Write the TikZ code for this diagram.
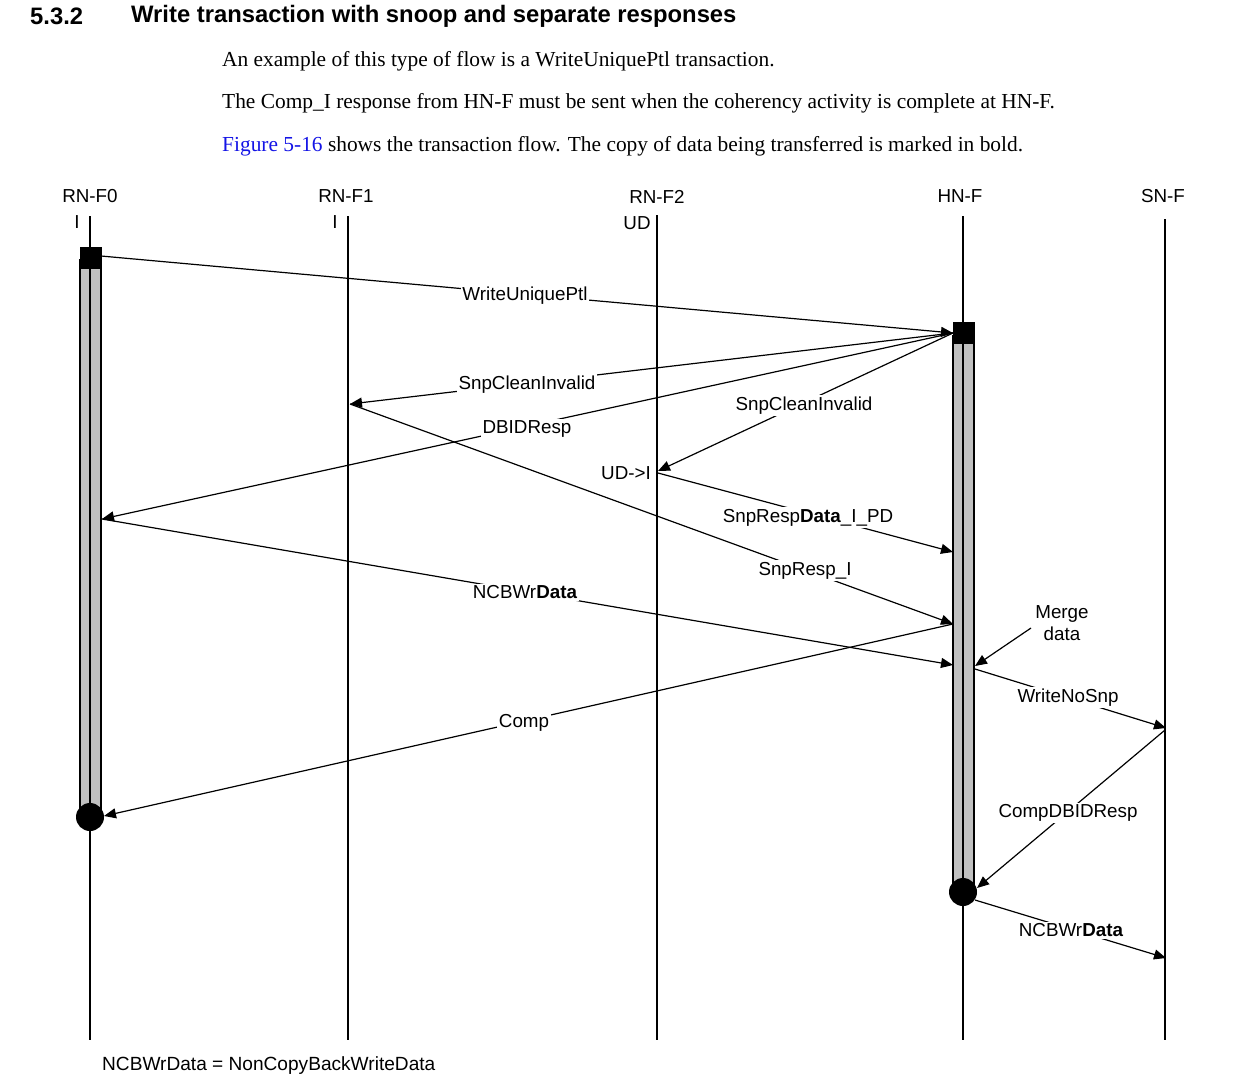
\documentclass[tikz,border=0pt]{standalone}
\usepackage{fontspec}
\setmainfont{Liberation Sans}
\newfontfamily\bodyserif{Liberation Serif}
\usetikzlibrary{arrows.meta}
\definecolor{linkblue}{RGB}{20,20,230}
\definecolor{bargray}{RGB}{192,192,192}
\begin{document}
\begin{tikzpicture}[x=1pt,y=-1pt,
  life/.style={line width=2.8pt},
  msg/.style={line width=1.2pt,-{Triangle[length=12pt,width=10pt]}},
  lbl/.style={fill=white,inner sep=1.5pt,font=\fontsize{18.8}{21}\selectfont},
  hdr/.style={font=\fontsize{18.8}{21}\selectfont,inner sep=0pt},
  body/.style={font=\bodyserif\fontsize{21.4}{24}\selectfont,anchor=west,inner sep=0pt},
  ttl/.style={font=\bfseries\fontsize{23.8}{26}\selectfont,anchor=west,inner sep=0pt},
  actbar/.style={fill=bargray,draw=black,line width=1.5pt}]
\useasboundingbox (0,0) rectangle (1233,1082);

% title and body
\node[ttl] (secno) at (30,16) {5.3.2};
\node[ttl] (sectitle) at (131,16) {Write transaction with snoop and separate responses};
\node[body] (p1) at (222,61.5) {An example of this type of flow is a WriteUniquePtl transaction.};
\node[body] (p2) at (222,103.5) {The Comp\_I response from HN-F must be sent when the coherency activity is complete at HN-F.};
\node[body] (p3) at (222,146.5) {\textcolor{linkblue}{Figure 5-16} shows the transaction flow. The copy of data being transferred is marked in bold.};

% headers
\node[hdr] (h0) at (90,196.5) {RN-F0};
\node[hdr] (h1) at (346,196.5) {RN-F1};
\node[hdr] (h2) at (657,196.5) {RN-F2};
\node[hdr] (h3) at (960,196.5) {HN-F};
\node[hdr] (h4) at (1163,196.5) {SN-F};
\node[hdr] (s0) at (77,222.5) {I};
\node[hdr] (s1) at (335,222.5) {I};
\node[hdr] (s2) at (637,223) {UD};

% lifeline coordinates
\coordinate (t0) at (90,216);  \coordinate (b0) at (90,1040);
\coordinate (t1) at (348,216); \coordinate (b1) at (348,1040);
\coordinate (t2) at (657,215); \coordinate (b2) at (657,1040);
\coordinate (t3) at (963,216); \coordinate (b3) at (963,1040);
\coordinate (t4) at (1165,219);\coordinate (b4) at (1165,1040);

% activation bars
\draw[actbar] (80,260) rectangle (101,817);
\draw[actbar] (953,336) rectangle (974,892);

\draw[life] (t0) -- (b0);
\draw[life] (t1) -- (b1);
\draw[life] (t2) -- (b2);
\draw[life] (t3) -- (b3);
\draw[life] (t4) -- (b4);

\fill (79.5,246.5) rectangle (101.5,268.5);
\fill (952.5,321.5) rectangle (974.5,343.5);
\fill (90,817) circle (14);
\fill (963,892) circle (14);

% message end points
\coordinate (a0) at (101,256);
\coordinate (hq) at (953,333);
\coordinate (f1) at (350,404);
\coordinate (f0a) at (102,519);
\coordinate (f2) at (658,471);
\coordinate (f2s) at (658,473);
\coordinate (hr1) at (953,552);
\coordinate (hr2) at (953,624);
\coordinate (hr3) at (953,665);
\coordinate (f0b) at (104,816);
\coordinate (mg) at (1031,628);
\coordinate (hm) at (975,666);
\coordinate (hw) at (975,669);
\coordinate (sn1) at (1166,728);
\coordinate (sn1s) at (1165,730);
\coordinate (hc) at (977,888);
\coordinate (hd) at (975,900);
\coordinate (sn2) at (1166,958);

% messages
\draw[msg] (a0) -- (hq);
\draw[msg] (hq) -- (f1);
\draw[msg] (hq) -- (f0a);
\draw[msg] (hq) -- (f2);
\draw[msg] (f2s) -- (hr1);
\draw[msg] (f1) -- (hr2);
\draw[msg] (f0a) -- (hr3);
\draw[msg] (hr2) -- (f0b);
\draw[msg] (mg) -- (hm);
\draw[msg] (hw) -- (sn1);
\draw[msg] (sn1s) -- (hc);
\draw[msg] (hd) -- (sn2);

% labels
\node[lbl] (l1) at (525,295.5) {WriteUniquePtl};
\node[lbl] (l2) at (527,384.5) {SnpCleanInvalid};
\node[lbl] (l3) at (527,428.5) {DBIDResp};
\node[lbl] (l4) at (804,405.5) {SnpCleanInvalid};
\node[lbl] (l5) at (808,517.5) {SnpResp\textbf{Data}\_I\_PD};
\node[lbl] (l6) at (805,570.5) {SnpResp\_I};
\node[lbl] (l7) at (525,592.5) {NCBWr\textbf{Data}};
\node[lbl] (l8) at (524,722.5) {Comp};
\node[lbl,align=center,font=\fontsize{18.8}{22}\selectfont] (l9) at (1062,623.5) {Merge\\data};
\node[lbl] (l10) at (1068,697.5) {WriteNoSnp};
\node[lbl] (l11) at (1068,812.5) {CompDBIDResp};
\node[lbl] (l12) at (1071,930.5) {NCBWr\textbf{Data}};
\node[hdr] (ud) at (626,473.5) {UD->I};

\node[hdr,anchor=west,font=\fontsize{19.1}{21}\selectfont] (foot) at (102,1065.5) {NCBWrData = NonCopyBackWriteData};
\end{tikzpicture}
\end{document}
